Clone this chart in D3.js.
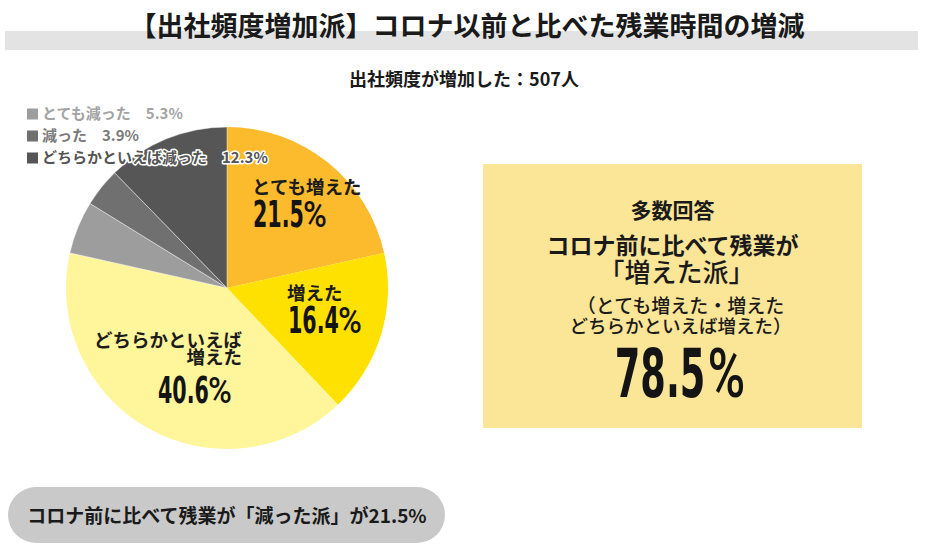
<!DOCTYPE html>
<html lang="ja">
<head>
<meta charset="utf-8">
<script src="https://cdn.jsdelivr.net/npm/d3@7"></script>
<style>
  html, body { margin: 0; padding: 0; background: #fff; }
  svg { display: block; }
</style>
</head>
<body>
<div id="chart"></div>
<script>
// ---- data ----
var TITLE = '【出社頻度増加派】コロナ以前と比べた残業時間の増減';
var RESPONDENTS = 507;
var CATEGORIES = ['とても増えた', '増えた', 'どちらかといえば増えた', 'とても減った', '減った', 'どちらかといえば減った'];
var SHARES = [21.5, 16.4, 40.6, 5.3, 3.9, 12.3];
var PIE_LABEL_LINES = [['とても増えた'], ['増えた'], ['どちらかといえば', '増えた']];
var INCREASE_KEYS = CATEGORIES.slice(0, 3);
var DECREASE_KEYS = CATEGORIES.slice(3);
var BOX_LINES = ['多数回答', 'コロナ前に比べて残業が', '「増えた派」', '（とても増えた・増えた', 'どちらかといえば増えた）'];

// ---- layout / style ----
var WIDTH = 928;
var HEIGHT = 551;
var PIE_CENTER = { x: 227, y: 288 };
var PIE_RADIUS = 161;
var SLICE_COLORS = ['#fbbb2c', '#ffe100', '#fff59b', '#9d9d9d', '#707070', '#565656'];
var LEGEND_TEXT_COLORS = ['#a3a3a3', '#7a7a7a', '#555555'];
var JP_FONT = "'Noto Sans CJK JP', 'Noto Sans', sans-serif";
var NUM_FONT = "'DejaVu Sans Condensed', 'DejaVu Sans', sans-serif";
var PCT_FONT = "Roboto, 'DejaVu Sans', sans-serif";
/** label offsets from the pie centre, one per "increased" slice */
var LABEL_LAYOUT = [
    { x: 25, y: -101, anchor: 'start', numX: 26, numY: -61 },
    { x: 60, y: 5, anchor: 'start', numX: 61, numY: 45 },
    { x: 15, y: 52, anchor: 'end', numX: -69, numY: 115 }
];
var BOX = { x: 483, y: 164, w: 379, h: 264 };

var shareByKey = {};
CATEGORIES.forEach(function (c, i) { shareByKey[c] = SHARES[i]; });
var increased = d3.sum(INCREASE_KEYS, function (k) { return shareByKey[k]; });
var decreased = d3.sum(DECREASE_KEYS, function (k) { return shareByKey[k]; });

var svg = d3.select('#chart').append('svg')
    .attr('width', WIDTH)
    .attr('height', HEIGHT);

/**
 * Condensed "12.3%" style number. Returns the group so it can be shifted.
 */
function drawPercent(parent, x, y, value, size, sx, pctSx, gap, anchor) {
    var g = parent.append('g');
    var num = g.append('text')
        .attr('transform', 'scale(' + sx + ',1)')
        .style('font-family', NUM_FONT)
        .style('font-weight', 700)
        .style('font-size', size + 'px')
        .attr('fill', '#141414')
        .text(value.toFixed(1));
    var w = num.node().getComputedTextLength() * sx;
    var pct = g.append('text')
        .attr('transform', 'translate(' + (w + gap) + ',0) scale(' + pctSx + ',1)')
        .style('font-family', PCT_FONT)
        .style('font-weight', 500)
        .style('font-size', (size * 1.02) + 'px')
        .attr('fill', '#141414')
        .text('%');
    var total = w + gap + pct.node().getComputedTextLength() * pctSx;
    var left = anchor === 'middle' ? x - total / 2 : (anchor === 'end' ? x - total : x);
    g.attr('transform', 'translate(' + left + ',' + y + ')');
    return g;
}

function jpText(parent, x, y, str, size, weight, anchor) {
    return parent.append('text')
        .attr('x', x)
        .attr('y', y)
        .attr('dy', '0.36em')
        .attr('text-anchor', anchor || 'middle')
        .style('font-family', JP_FONT)
        .style('font-weight', weight)
        .style('font-size', size + 'px')
        .attr('fill', '#1a1a1a')
        .text(str);
}

// ---- header ----
svg.append('rect')
    .attr('x', 5).attr('y', 31)
    .attr('width', 913).attr('height', 19)
    .attr('fill', '#e3e3e3');
jpText(svg, 467, 26, TITLE, 27, 700);
jpText(svg, 464, 80, '出社頻度が増加した：' + RESPONDENTS + '人', 18, 700);

// ---- pie ----
var color = d3.scaleOrdinal().domain(CATEGORIES).range(SLICE_COLORS);
var pie = d3.pie()
    .sort(null)
    .value(function (d) { return d.value; });
var arc = d3.arc().innerRadius(0).outerRadius(PIE_RADIUS);
var arcs = pie(CATEGORIES.map(function (c, i) { return { key: c, value: SHARES[i] }; }));

var pieG = svg.append('g')
    .attr('transform', 'translate(' + PIE_CENTER.x + ',' + PIE_CENTER.y + ')');
pieG.selectAll('path')
    .data(arcs)
    .enter().append('path')
    .attr('d', arc)
    .attr('fill', function (d) { return color(d.data.key); })
    .attr('stroke', function (d, i) { return i >= 3 ? 'rgba(255,255,255,0.55)' : 'none'; })
    .attr('stroke-width', 0.8);

// labels on the "increased" slices
LABEL_LAYOUT.forEach(function (l, i) {
    PIE_LABEL_LINES[i].forEach(function (line, j) {
        jpText(pieG, l.x, l.y + j * 17.5, line, 18.5, 700, l.anchor)
            .attr('fill', '#1c1c1c');
    });
    drawPercent(pieG, l.numX, l.numY, SHARES[i], 37, 0.62, 0.86, -1, 'start');
});

// ---- legend for the "decreased" slices ----
var legend = svg.append('g')
    .selectAll('g')
    .data(DECREASE_KEYS)
    .enter().append('g')
    .attr('transform', function (d, i) { return 'translate(27,' + (114 + i * 22) + ')'; });
legend.append('rect')
    .attr('x', 0).attr('y', -5.5)
    .attr('width', 11).attr('height', 11)
    .attr('fill', function (d) { return color(d); });
legend.append('text')
    .attr('x', 15)
    .attr('dy', '0.36em')
    .style('font-family', JP_FONT)
    .style('font-weight', 700)
    .style('font-size', '15px')
    .attr('fill', function (d, i) { return LEGEND_TEXT_COLORS[i]; })
    .attr('stroke', '#ffffff')
    .attr('stroke-width', 3)
    .attr('stroke-linejoin', 'round')
    .style('paint-order', 'stroke')
    .text(function (d) { return d + '\u3000' + shareByKey[d].toFixed(1) + '%'; });

// ---- summary box ----
svg.append('rect')
    .attr('x', BOX.x).attr('y', BOX.y)
    .attr('width', BOX.w).attr('height', BOX.h)
    .attr('fill', '#fbe597');
var cx = BOX.x + BOX.w / 2;
jpText(svg, cx, 210, BOX_LINES[0], 21, 700);
jpText(svg, cx, 246, BOX_LINES[1], 23, 700);
jpText(svg, cx + 4, 273, BOX_LINES[2], 26, 500);
jpText(svg, cx + 8, 306, BOX_LINES[3], 19, 500);
jpText(svg, cx + 8, 326, BOX_LINES[4], 18.5, 500);
drawPercent(svg, 680, 397, increased, 68, 0.6, 0.74, 2, 'middle');

// ---- bottom pill ----
svg.append('rect')
    .attr('x', 8).attr('y', 487)
    .attr('width', 437).attr('height', 56)
    .attr('rx', 28)
    .attr('fill', '#c9c9c9');
jpText(svg, 227, 516, 'コロナ前に比べて残業が「減った派」が' + decreased.toFixed(1) + '%', 19, 700);
</script>
</body>
</html>
